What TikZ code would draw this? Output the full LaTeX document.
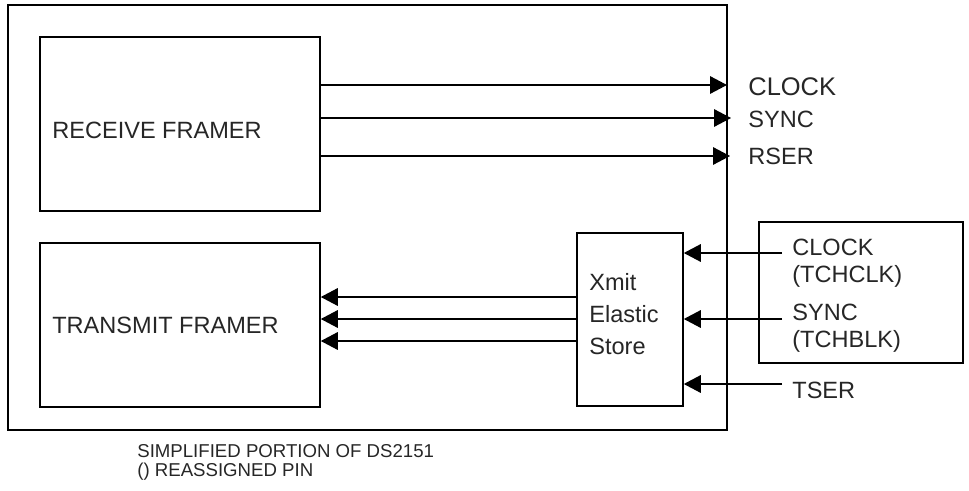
\documentclass[tikz,border=0pt]{standalone}
\usepackage{fontspec}
\setmainfont{Liberation Sans}
\usetikzlibrary{arrows.meta, positioning, calc}

\begin{document}
\begin{tikzpicture}[x=0.02cm, y=-0.02cm,
    box/.style={rectangle, draw, line width=0.9pt, inner sep=0pt},
    sig/.style={line width=0.9pt, -{Triangle[length=3.4mm, width=3.5mm]}},
    lbl/.style={anchor=west, inner sep=0pt, text=black!85, font=\fontsize{13.4}{15.5}\selectfont, align=left},
    note/.style={anchor=west, inner sep=0pt, text=black!85, font=\fontsize{10.6}{12}\selectfont}]

\useasboundingbox (0,0) rectangle (969,490);

% blocks
\node[box, minimum width=14.38cm, minimum height=8.5cm] (chip) at (367.5,217.5) {};
\node[box, minimum width=5.6cm, minimum height=3.48cm] (rf) at (180,124) {};
\node[box, minimum width=5.6cm, minimum height=3.28cm] (tf) at (180,325) {};
\node[box, minimum width=2.12cm, minimum height=3.46cm] (xmit) at (630,319.5) {};
\node[box, minimum width=4.08cm, minimum height=2.82cm] (ext) at (861,292.5) {};

\node[lbl] (rftext) at (52,130) {RECEIVE FRAMER};
\node[lbl] (tftext) at (52,325) {TRANSMIT FRAMER};
\node[lbl, font=\fontsize{13.4}{18}\selectfont] (xtext) at (589,314) {Xmit\\Elastic\\Store};

% receive side outputs
\coordinate (rclk) at (727,85);
\coordinate (rsync) at (731,118);
\coordinate (rser) at (730,156);
\draw[sig] (rf.east |- rclk) -- (rclk);
\draw[sig] (rf.east |- rsync) -- (rsync);
\draw[sig] (rf.east |- rser) -- (rser);
\node[lbl, font=\fontsize{14.5}{16}\selectfont] (lclk) at (748,87) {CLOCK};
\node[lbl] (lsync) at (748,119) {SYNC};
\node[lbl] (lrser) at (748,156) {RSER};

% elastic store to transmit framer
\foreach \yy in {297,319,341}
  \draw[sig] (xmit.west |- 0,\yy) -- (tf.east |- 0,\yy);

% transmit side inputs
\coordinate (tclk) at (782,253);
\coordinate (tsync) at (782,319);
\coordinate (tser) at (782,384);
\draw[sig] (tclk) -- (xmit.east |- tclk);
\draw[sig] (tsync) -- (xmit.east |- tsync);
\draw[sig] (tser) -- (xmit.east |- tser);
\node[lbl] (ltclk) at (792,263) {CLOCK\\(TCHCLK)};
\node[lbl] (ltsync) at (792,328) {SYNC\\(TCHBLK)};
\node[lbl] (ltser) at (792,390) {TSER};

% caption
\node[note] (cap1) at (137,451) {SIMPLIFIED PORTION OF DS2151};
\node[note] (cap2) at (137,472) {() REASSIGNED PIN};

\end{tikzpicture}
\end{document}
